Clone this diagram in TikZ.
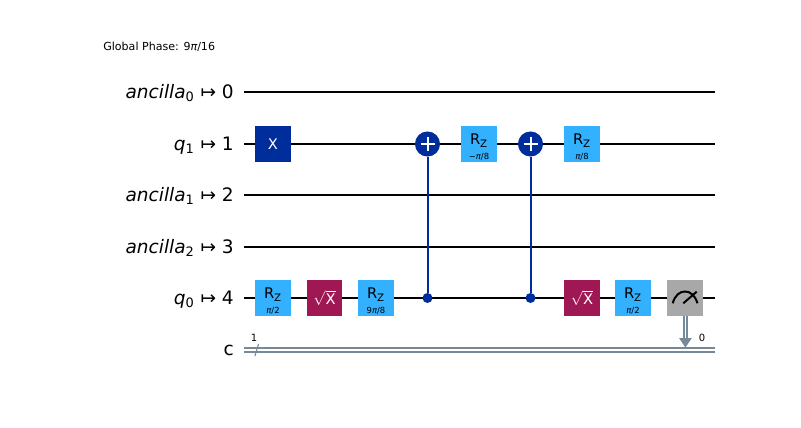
\documentclass[tikz,border=0pt]{standalone}
\usepackage{amsmath,amssymb}
\usepackage{fontspec}
\setmainfont{DejaVu Sans}
\definecolor{xblue}{HTML}{002D9C}
\definecolor{rzblue}{HTML}{33B1FF}
\definecolor{sxred}{HTML}{9F1853}
\definecolor{measgray}{HTML}{A8A8A8}
\definecolor{clgray}{HTML}{778899}
\newcommand{\pis}{{\itshape π}}
\newcommand{\rzlabel}[1]{\rule{0pt}{12.5pt}R\textsubscript{Z}\\[-1.2pt]{\fontsize{6.3}{7}\selectfont #1}}

\begin{document}
\begin{tikzpicture}[x=0.75pt,y=-0.75pt,
  wire/.style={line width=1.5pt,black},
  clwire/.style={line width=1.5pt,clgray},
  link/.style={line width=1.5pt,xblue},
  gate/.style={rectangle,minimum size=26.6pt,inner sep=0pt,align=center,font=\fontsize{11}{12}\selectfont},
  xgate/.style={gate,fill=xblue,text=white},
  rzgate/.style={gate,fill=rzblue,text=black},
  sxgate/.style={gate,fill=sxred,text=white},
  measure/.style={gate,fill=measgray},
  target/.style={circle,fill=xblue,minimum size=18.8pt,inner sep=0pt,
    path picture={\draw[white,line width=1.5pt]
      (path picture bounding box.center) ++(-7,0) -- ++(14,0)
      (path picture bounding box.center) ++(0,-7) -- ++(0,14);}},
  ctrl/.style={circle,fill=xblue,minimum size=7.5pt,inner sep=0pt},
  qlabel/.style={anchor=base east,inner sep=0pt,font=\fontsize{13.9}{15}\selectfont},
  small/.style={inner sep=0pt,font=\fontsize{7.5}{9}\selectfont}]
\useasboundingbox (0,0) rectangle (801,428);

\node[small,anchor=base west,font=\fontsize{8.3}{9}\selectfont] (phase) at (103,51) {Global Phase: 9\pis/16};

\node[qlabel] (lab0) at (234,98.5) {{\itshape ancilla}\textsubscript{0} ↦ 0};
\node[qlabel] (lab1) at (234,150.5) {{\itshape q}\textsubscript{1} ↦ 1};
\node[qlabel] (lab2) at (234,201.5) {{\itshape ancilla}\textsubscript{1} ↦ 2};
\node[qlabel] (lab3) at (234,253.5) {{\itshape ancilla}\textsubscript{2} ↦ 3};
\node[qlabel] (lab4) at (234,304.5) {{\itshape q}\textsubscript{0} ↦ 4};
\node[qlabel] (labc) at (234,355) {c};

% wire ends
\coordinate (w0l) at (244,92);   \coordinate (w0r) at (715,92);
\coordinate (w1l) at (244,144);  \coordinate (w1r) at (715,144);
\coordinate (w2l) at (244,195);  \coordinate (w2r) at (715,195);
\coordinate (w3l) at (244,247);  \coordinate (w3r) at (715,247);
\coordinate (w4l) at (244,298);  \coordinate (w4r) at (715,298);
\coordinate (cal) at (244,348.3); \coordinate (car) at (715,348.3);
\coordinate (cbl) at (244,351.8); \coordinate (cbr) at (715,351.8);

\draw[wire] (w0l) -- (w0r);
\draw[wire] (w1l) -- (w1r);
\draw[wire] (w2l) -- (w2r);
\draw[wire] (w3l) -- (w3r);
\draw[wire] (w4l) -- (w4r);
\draw[clwire] (cal) -- (car);
\draw[clwire] (cbl) -- (cbr);

% register width mark
\coordinate (sla) at (255,356);
\coordinate (slb) at (258.5,344);
\draw[line width=0.8pt,clgray] (sla) -- (slb);
\node[small] (cwidth) at (254,338) {1};

% gates on q1
\node[xgate] (x1) at (273,144) {X};
\node[target] (t1) at (427.5,144) {};
\node[rzgate] (rz4) at (479,144) {\rzlabel{−\pis/8}};
\node[target] (t2) at (530.5,144) {};
\node[rzgate] (rz5) at (582,144) {\rzlabel{\pis/8}};

% gates on q0
\node[rzgate] (rz1) at (273,298) {\rzlabel{\pis/2}};
\node[sxgate] (sx1) at (324.5,298) {$\sqrt{\text{X}}$};
\node[rzgate] (rz2) at (376,298) {\rzlabel{9\pis/8}};
\node[ctrl] (c1) at (427.5,298) {};
\node[ctrl] (c2) at (530.5,298) {};
\node[sxgate] (sx2) at (582,298) {$\sqrt{\text{X}}$};
\node[rzgate] (rz3) at (633,298) {\rzlabel{\pis/2}};
\node[measure] (m) at (685,298) {};

\draw[link] (t1) -- (c1);
\draw[link] (t2) -- (c2);

% meter dial
\draw[line width=1.5pt] (672.7,303.3) .. controls (675,295) and (680,291.5) .. (685,291.5)
  .. controls (690,291.5) and (695,295) .. (697.5,303.3);
\draw[line width=1.5pt] (683.3,303.3) -- (696.7,291.7);

% measurement down to the classical register
\coordinate (ma) at (683.5,316);  \coordinate (mb) at (683.5,339);
\coordinate (mc) at (686.9,316);  \coordinate (md) at (686.9,339);
\draw[clwire] (ma) -- (mb);
\draw[clwire] (mc) -- (md);
\fill[clgray] (679,338) -- (691.8,338) -- (685.4,347.5) -- cycle;
\node[small] (cbit) at (702,338) {0};
\end{tikzpicture}
\end{document}
